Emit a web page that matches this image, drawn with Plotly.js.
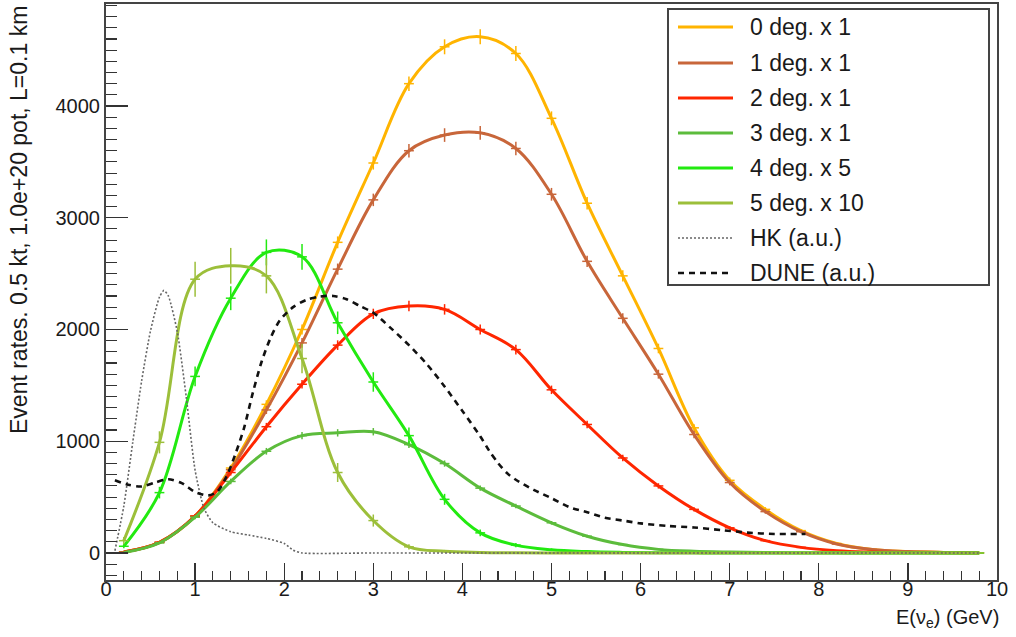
<!DOCTYPE html>
<html>
<head>
<meta charset="utf-8">
<script src="https://cdn.plot.ly/plotly-3.0.1.min.js"></script>
<style>html,body{margin:0;padding:0;background:#fff;}#chart{width:1016px;height:637px;}</style>
</head>
<body>
<div id="chart"></div>
<script>
// ---- data ----
const energy = [0.2,0.6,1.0,1.4,1.8,2.2,2.6,3.0,3.4,3.8,4.2,4.6,5.0,5.4,5.8,6.2,6.6,7.0,7.4,7.8,8.2,8.6,9.0,9.4,9.8];
const deg0 = [8,95,330,760,1330,2000,2780,3490,4200,4530,4620,4470,3890,3130,2480,1830,1120,650,390,200,85,30,12,5,2];
const deg1 = [8,95,330,745,1280,1880,2540,3160,3600,3740,3760,3620,3210,2610,2100,1600,1060,630,370,190,80,30,12,5,2];
const deg2 = [8,95,330,720,1130,1510,1860,2140,2210,2180,2000,1820,1460,1150,850,600,390,225,110,50,20,8,3,1,0];
const deg3 = [5,90,320,640,910,1050,1075,1085,970,800,580,420,270,150,75,32,15,8,4,2,1,0,0,0,0];
const deg4x5 = [60,540,1580,2280,2690,2650,2060,1530,1050,480,180,70,28,12,5,2,1,0,0,0,0,0,0,0,0];
const deg5x10 = [110,990,2450,2570,2480,1740,720,290,55,15,5,2,0,0,0,0,0,0,0,0,0,0,0,0,0];
const err0 = [3,10,18,28,36,45,53,59,65,67,68,67,62,56,50,43,33,25,20,14,9,5,3,2,1];
const err1 = [3,10,18,27,36,43,50,56,60,61,61,60,57,51,46,40,33,25,19,14,9,5,3,2,1];
const err2 = [3,10,18,27,34,39,43,46,47,47,45,43,38,34,29,24,20,15,10,7,4,3,2,1,0];
const err3 = [2,9,18,25,30,32,33,33,31,28,24,20,16,12,9,6,4,3,2,1,1,0,0,0,0];
const err4 = [17,52,89,107,116,115,101,87,72,49,30,19,12,8,5,3,2,0,0,0,0,0,0,0,0];
const err5 = [33,99,157,160,157,132,85,54,23,12,7,4,0,0,0,0,0,0,0,0,0,0,0,0,0];
const hkEnergy = [0.1,0.2,0.3,0.4,0.5,0.6,0.65,0.7,0.8,0.9,1.0,1.1,1.2,1.4,1.6,1.8,2.0,2.1,2.2,3.0,4.0,5.0,6.0,7.0,8.0,9.0,9.8];
const hkRate = [20,420,990,1540,1990,2290,2350,2300,1980,1400,740,400,270,190,160,130,85,25,0,0,0,0,0,0,0,0,0];
const duneEnergy = [0.1,0.25,0.4,0.55,0.7,0.85,1.0,1.15,1.25,1.35,1.45,1.55,1.65,1.75,1.85,1.95,2.1,2.25,2.4,2.55,2.7,2.85,3.0,3.2,3.4,3.6,3.8,4.0,4.2,4.3,4.4,4.5,4.6,4.8,5.0,5.2,5.4,5.6,5.8,6.0,6.3,6.6,6.9,7.2,7.5,7.85];
const duneRate = [650,610,595,630,660,625,545,515,550,680,880,1120,1440,1720,1930,2080,2200,2265,2295,2300,2270,2210,2150,2010,1860,1690,1490,1270,1045,915,805,715,655,565,490,410,365,315,290,265,242,228,205,182,170,170];
const legendLabels = ["0 deg. x 1","1 deg. x 1","2 deg. x 1","3 deg. x 1","4 deg. x 5","5 deg. x 10","HK (a.u.)","DUNE (a.u.)"];
const xTickVals = [0,1,2,3,4,5,6,7,8,9,10];
const yTickVals = [0,1000,2000,3000,4000];

// ---- styles ----
const colors = ["#ffb400","#c8663a","#ff2600","#5cbc3c","#22ea10","#9cbf3a","#666666","#111111"];
const dashes = ["solid","solid","solid","solid","solid","solid","2px,2px","6px,5px"];
const widths = [3,3,3,3,3,3,1.6,2.6];

function hist(y, err, i) {
  return {
    type: 'scatter', mode: 'lines+markers', x: energy, y: y,
    line: {color: colors[i], width: widths[i], shape: 'spline', smoothing: 1},
    marker: {symbol: 'line-ew-open', size: 7, color: colors[i], line: {color: colors[i], width: 1.5}},
    error_y: {type: 'data', array: err, visible: true, color: colors[i], thickness: 1.5, width: 0},
    showlegend: false, hoverinfo: 'skip'
  };
}
const traces = [
  hist(deg0, err0, 0), hist(deg1, err1, 1), hist(deg2, err2, 2),
  hist(deg3, err3, 3), hist(deg4x5, err4, 4), hist(deg5x10, err5, 5),
  {type:'scatter', mode:'lines', x: hkEnergy, y: hkRate,
   line:{color: colors[6], width: widths[6], dash: dashes[6], shape:'spline', smoothing:0.6}, showlegend:false, hoverinfo:'skip'},
  {type:'scatter', mode:'lines', x: duneEnergy, y: duneRate,
   line:{color: colors[7], width: widths[7], dash: dashes[7], shape:'spline', smoothing:0.8}, showlegend:false, hoverinfo:'skip'}
];

// ---- layout (pixel frame of the reference) ----
const W = 1016, H = 637;
const PL = 106, PR = 997, PT = 4, PB = 580;
const px = v => (v - PL) / (PR - PL);
const py = v => (PB - v) / (PB - PT);
const font = 'Liberation Sans, Arial, Helvetica, sans-serif';

const shapes = [{type:'rect', xref:'paper', yref:'paper', x0: px(668), x1: px(989), y0: py(285), y1: py(9),
  line:{color:'#444', width:2}, fillcolor:'rgba(255,255,255,1)', layer:'above'}];
const annotations = [];
const rowY = [27,63,98,133,168,203,238,273];
legendLabels.forEach((lab, i) => {
  shapes.push({type:'line', xref:'paper', yref:'paper', x0: px(678), x1: px(733), y0: py(rowY[i]), y1: py(rowY[i]),
    line:{color: colors[i], width: i < 6 ? 3 : widths[i], dash: dashes[i]}, layer:'above'});
  annotations.push({xref:'paper', yref:'paper', x: px(748), y: py(rowY[i]), xanchor:'left', yanchor:'middle',
    text: lab, showarrow:false, font:{family: font, size: 23, color:'#1a1a1a'}});
});
annotations.push({xref:'paper', yref:'paper', x: px(1001), y: py(618), xanchor:'right', yanchor:'middle',
  text:'E(ν<sub>e</sub>) (GeV)', showarrow:false, font:{family: font, size: 20, color:'#1a1a1a'}});
annotations.push({xref:'paper', yref:'paper', x: px(19), y: py(4), xanchor:'center', yanchor:'top', textangle:-90,
  text:'Event rates. 0.5 kt, 1.0e+20 pot, L=0.1 km', showarrow:false, font:{family: font, size: 23, color:'#1a1a1a'}});

const layout = {
  width: W, height: H,
  margin: {l: PL, r: W - PR, t: PT, b: H - PB, pad: 0},
  paper_bgcolor: '#fff', plot_bgcolor: '#fff',
  showlegend: false,
  font: {family: font, color: '#1a1a1a'},
  xaxis: {range: [0, 10], tickvals: xTickVals, ticktext: xTickVals.map(String), ticks: 'inside', ticklen: 17, tickwidth: 1.3, tickcolor: '#333',
    minor: {ticks: 'inside', dtick: 0.2, ticklen: 9, tickwidth: 1.1, tickcolor: '#333', showgrid: false},
    showgrid: false, zeroline: false, showline: true, linecolor: '#444', linewidth: 2, mirror: true,
    tickfont: {family: font, size: 20, color: '#1a1a1a'}, ticklabelstandoff: -10},
  yaxis: {range: [-242, 4913], tickvals: yTickVals, ticktext: yTickVals.map(String), ticks: 'inside', ticklen: 22, tickwidth: 1.3, tickcolor: '#333',
    minor: {ticks: 'inside', dtick: 100, ticklen: 11, tickwidth: 1.1, tickcolor: '#333', showgrid: false},
    showgrid: false, zeroline: false, showline: true, linecolor: '#444', linewidth: 2, mirror: true,
    tickfont: {family: font, size: 20, color: '#1a1a1a'}, ticklabelstandoff: 0},
  shapes: shapes, annotations: annotations
};
Plotly.newPlot('chart', traces, layout, {staticPlot: true, displayModeBar: false});
</script>
</body>
</html>
